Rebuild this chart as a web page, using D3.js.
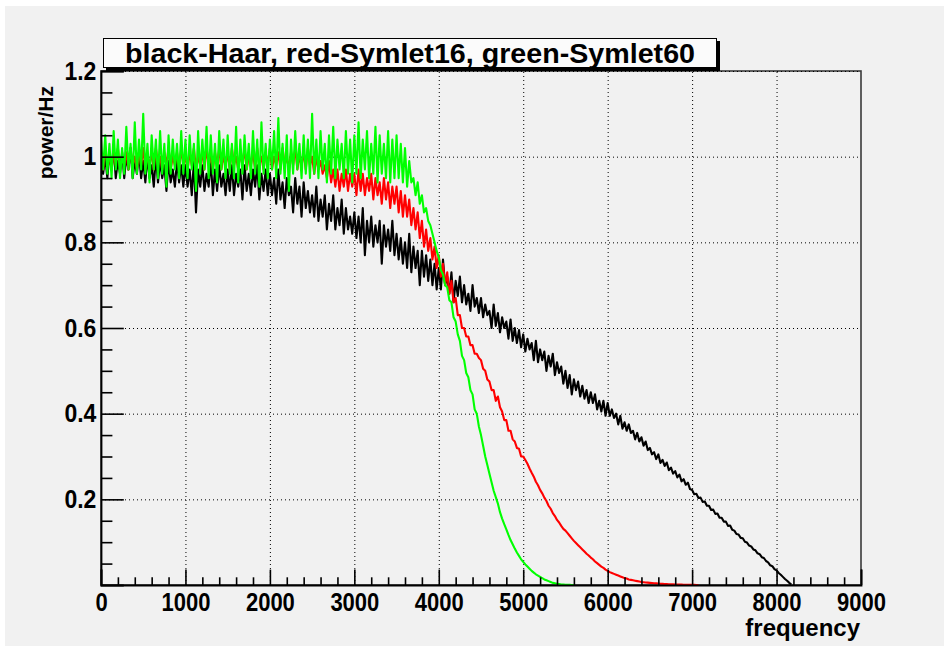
<!DOCTYPE html>
<html><head><meta charset="utf-8">
<script src="https://cdn.jsdelivr.net/npm/d3@7"></script>
<style>body{margin:0;background:#fff;} svg{display:block;}</style>
</head><body><svg id="c" width="944" height="646"></svg>
<script>
// ---- data ----
const freqStep = 25; // Hz between successive samples, first sample at 0 Hz
const haar = [
1.01,0.96,1.00,0.95,1.01,0.97,1.02,0.95,0.99,0.96,1.01,0.95,1.00,0.97,1.02,0.95,0.99,0.96,1.01,0.95,
0.99,0.94,1.00,0.95,0.98,0.93,1.00,0.94,0.99,0.95,0.98,0.92,0.99,0.94,0.97,0.93,0.99,0.94,0.98,0.93,
0.98,0.93,0.97,0.91,0.99,0.87,0.97,0.93,0.98,0.92,0.96,0.93,0.99,0.91,0.97,0.92,0.98,0.93,0.96,0.91,
0.97,0.92,0.98,0.91,0.96,0.93,0.97,0.90,0.98,0.92,0.96,0.91,0.97,0.93,0.98,0.90,0.96,0.92,0.97,0.91,
0.96,0.91,0.95,0.89,0.97,0.90,0.94,0.88,0.95,0.91,0.93,0.87,0.95,0.89,0.93,0.86,0.94,0.88,0.92,0.87,
0.91,0.86,0.93,0.85,0.90,0.86,0.91,0.83,0.89,0.85,0.91,0.83,0.88,0.84,0.90,0.82,0.88,0.83,0.86,0.82,
0.87,0.81,0.86,0.80,0.88,0.77,0.85,0.80,0.86,0.79,0.84,0.80,0.85,0.75,0.84,0.79,0.83,0.78,0.85,0.77,
0.82,0.76,0.81,0.75,0.80,0.74,0.82,0.73,0.79,0.74,0.78,0.70,0.78,0.72,0.77,0.71,0.76,0.70,0.75,0.69,
0.74,0.69,0.76,0.70,0.72,0.68,0.73,0.66,0.71,0.675,0.72,0.66,0.70,0.655,0.68,0.64,0.70,0.65,0.67,0.635,
0.67,0.625,0.655,0.63,0.64,0.60,0.655,0.605,0.635,0.59,0.625,0.60,0.615,0.575,0.62,0.57,0.60,0.565,0.595,0.555,
0.585,0.545,0.575,0.55,0.565,0.525,0.57,0.52,0.55,0.525,0.545,0.50,0.535,0.51,0.54,0.49,0.52,0.495,0.51,0.47,
0.50,0.46,0.49,0.445,0.48,0.455,0.475,0.44,0.465,0.435,0.455,0.425,0.45,0.425,0.445,0.41,0.43,0.405,0.43,0.395,
0.425,0.395,0.41,0.39,0.40,0.375,0.395,0.365,0.38,0.36,0.375,0.355,0.36,0.34,0.355,0.335,0.345,0.325,0.335,0.315,
0.32,0.305,0.31,0.294,0.305,0.285,0.292,0.278,0.286,0.268,0.274,0.26,0.266,0.251,0.258,0.242,0.247,0.234,0.239,0.224,
0.222,0.212,0.213,0.203,0.204,0.194,0.195,0.185,0.185,0.175,0.176,0.166,0.167,0.157,0.157,0.148,0.148,0.138,0.139,0.129,
0.127,0.119,0.118,0.11,0.109,0.101,0.099,0.092,0.09,0.083,0.081,0.074,0.072,0.065,0.063,0.056,0.053,0.046,0.044,0.037,
0.034,0.028,0.024,0.019,0.014,0.01,0.005,0.001
];
const symlet16 = [
1.01,0.97,1.02,0.98,1.00,0.97,1.01,0.98,1.02,0.97,1.00,0.98,1.01,0.97,1.02,0.98,1.00,0.97,1.01,0.98,
1.02,0.97,1.00,0.98,1.01,0.97,1.02,0.98,1.00,0.97,1.01,0.98,1.02,0.97,1.00,0.98,1.01,0.97,1.02,0.98,
1.00,0.97,1.01,0.98,1.02,0.97,1.00,0.98,1.01,0.97,1.02,0.98,1.00,0.97,1.01,0.98,1.02,0.97,1.00,0.98,
1.01,0.97,1.02,0.98,1.00,0.97,1.01,0.98,1.02,0.97,1.00,0.98,1.01,0.97,1.02,0.98,1.00,0.97,1.01,0.98,
1.02,0.97,1.00,0.98,1.01,0.97,1.02,0.98,1.00,0.97,1.01,0.98,1.02,0.97,1.00,0.98,1.01,0.97,1.02,0.98,
1.00,0.96,1.00,0.97,0.99,0.96,0.98,0.95,0.99,0.94,0.97,0.93,0.97,0.92,0.96,0.93,0.97,0.92,0.96,0.93,
0.96,0.91,0.97,0.92,0.96,0.91,0.95,0.92,0.96,0.90,0.95,0.91,0.94,0.89,0.95,0.90,0.94,0.88,0.93,0.89,
0.93,0.87,0.92,0.86,0.91,0.86,0.90,0.84,0.88,0.83,0.87,0.81,0.85,0.79,0.83,0.78,0.81,0.76,0.79,0.74,
0.77,0.72,0.75,0.70,0.73,0.68,0.71,0.66,0.67,0.63,0.63,0.60,0.60,0.58,0.58,0.56,0.56,0.54,0.54,0.53,
0.525,0.505,0.50,0.48,0.475,0.455,0.455,0.43,0.44,0.415,0.405,0.385,0.385,0.36,0.36,0.34,0.335,0.32,0.318,0.30,
0.30,0.292,0.283,0.272,0.262,0.253,0.241,0.233,0.222,0.214,0.204,0.196,0.185,0.178,0.168,0.161,0.152,0.146,0.138,0.131,
0.127,0.121,0.115,0.109,0.103,0.098,0.093,0.088,0.083,0.078,0.073,0.069,0.064,0.060,0.055,0.051,0.047,0.043,0.040,0.036,
0.033,0.030,0.028,0.026,0.024,0.022,0.020,0.018,0.016,0.015,0.013,0.012,0.011,0.010,0.009,0.008,0.007,0.0065,0.006,0.0055,
0.005,0.0045,0.004,0.0037,0.0034,0.003,0.0027,0.0024,0.0021,0.0019,0.0017,0.0015,0.0013,0.0011,0.001,0.0008,0.0007,0.0006,0.0005,0.0004,
0.0003,0.0002,0.0001,0.0
];
const symlet60 = [
1.04,0.97,1.05,0.96,1.03,0.95,1.06,0.97,1.04,0.95,1.02,0.96,1.07,0.97,1.03,0.95,1.08,0.96,1.04,0.97,
1.10,0.96,1.03,0.94,1.05,0.97,1.04,0.95,1.06,0.96,1.03,0.93,1.05,0.96,1.04,0.97,1.03,0.95,1.06,0.96,
1.04,0.95,1.05,0.97,1.03,0.92,1.06,0.96,1.04,0.97,1.07,0.95,1.05,0.96,1.03,0.94,1.06,0.97,1.04,0.95,
1.05,0.96,1.03,0.95,1.07,0.94,1.04,0.96,1.05,0.97,1.03,0.95,1.06,0.96,1.04,0.93,1.08,0.96,1.03,0.95,
1.04,0.97,1.06,0.95,1.09,0.96,1.03,0.95,1.05,0.92,1.04,0.96,1.06,0.97,1.03,0.95,1.05,0.96,1.04,0.95,
1.10,0.96,1.04,0.95,1.06,0.97,1.03,0.94,1.05,0.96,1.07,0.95,1.04,0.97,1.03,0.95,1.06,0.96,1.04,0.94,
1.05,0.96,1.08,0.95,1.04,0.97,1.06,0.95,1.03,0.96,1.07,0.94,1.05,0.96,1.03,0.95,1.06,0.94,1.04,0.95,
1.05,0.95,1.03,0.94,1.02,0.93,0.99,0.94,0.95,0.91,0.94,0.89,0.91,0.87,0.88,0.85,0.84,0.82,0.80,0.78,
0.765,0.735,0.725,0.70,0.695,0.665,0.66,0.625,0.615,0.585,0.57,0.535,0.525,0.495,0.485,0.455,0.445,0.41,0.40,0.37,
0.35,0.325,0.30,0.28,0.26,0.24,0.22,0.205,0.19,0.17,0.155,0.142,0.13,0.117,0.105,0.095,0.085,0.076,0.068,0.06,
0.054,0.048,0.043,0.038,0.033,0.029,0.025,0.022,0.019,0.016,0.013,0.011,0.009,0.007,0.005,0.004,0.003,0.002,0.001,0.001,
0.0005,0.0003,0.0002,0.0001,0.0
];
const series = [
  {name: "Haar", values: haar, color: "#000000"},
  {name: "Symlet16", values: symlet16, color: "#ff0000"},
  {name: "Symlet60", values: symlet60, color: "#00ff00"}
];
const xMajorTicks = [0,1000,2000,3000,4000,5000,6000,7000,8000,9000];
const yMajorTicks = [0.2,0.4,0.6,0.8,1.0,1.2];
const yTickLabels = ["0.2","0.4","0.6","0.8","1","1.2"];
const titleText = "black-Haar, red-Symlet16, green-Symlet60";
const xTitle = "frequency";
const yTitle = "power/Hz";

// ---- layout ----
const svg = d3.select("#c");
const L = 101, R = 861, T = 71, B = 585;
const bg = "#f1f1f1";
const font = "'Liberation Sans', Arial, Helvetica, sans-serif";

svg.append("rect").attr("x",5).attr("y",6).attr("width",939).attr("height",640).attr("fill",bg);

const x = d3.scaleLinear().domain([0,9000]).range([L,R]);
const y = d3.scaleLinear().domain([0,1.2]).range([B,T]);

// frame
svg.append("rect").attr("x",L).attr("y",T).attr("width",R-L).attr("height",B-T)
  .attr("fill",bg).attr("stroke","#3a3a3a").attr("stroke-width",1.6);

// grid
const gridStyle = g => g.selectAll("line").attr("stroke","#000").attr("stroke-width",1).attr("stroke-dasharray","1,3");
svg.append("g").attr("transform",`translate(0,${B})`)
  .call(d3.axisBottom(x).tickValues(xMajorTicks.slice(1,-1)).tickSize(-(B-T)).tickFormat(""))
  .call(g=>g.select(".domain").remove()).call(gridStyle);
svg.append("g").attr("transform",`translate(${L},0)`)
  .call(d3.axisLeft(y).tickValues(yMajorTicks).tickSize(-(R-L)).tickFormat(""))
  .call(g=>g.select(".domain").remove()).call(gridStyle);

// curves
svg.append("clipPath").attr("id","clip").append("rect").attr("x",L).attr("y",T).attr("width",R-L).attr("height",B-T);
const line = d3.line().x((d,i)=>x(i*freqStep)).y(d=>y(d));
const plot = svg.append("g").attr("clip-path","url(#clip)");
series.forEach(s=>{
  plot.append("path").datum(s.values).attr("d",line)
    .attr("fill","none").attr("stroke",s.color).attr("stroke-width",2.1).attr("stroke-linejoin","round");
});

// minor ticks
const xMinor = d3.range(0,9001,200).filter(v=>v%1000!==0);
const yMinor = d3.range(0,1.2001,0.05).map(v=>+v.toFixed(2)).filter(v=>Math.abs(v/0.2-Math.round(v/0.2))>1e-6);
const tickStyle = g => { g.select(".domain").remove(); g.selectAll("line").attr("stroke","#000").attr("stroke-width",1.6); };
svg.append("g").attr("transform",`translate(0,${B})`)
  .call(d3.axisBottom(x).tickValues(xMinor).tickSize(-7.7).tickFormat("")).call(tickStyle);
svg.append("g").attr("transform",`translate(${L},0)`)
  .call(d3.axisLeft(y).tickValues(yMinor).tickSize(-11.4).tickFormat("")).call(tickStyle);

// major ticks + labels
const xAxis = svg.append("g").attr("transform",`translate(0,${B})`)
  .call(d3.axisBottom(x).tickValues(xMajorTicks).tickSize(-15.4).tickPadding(8).tickFormat(d3.format("d")));
xAxis.select(".domain").attr("stroke","#000").attr("stroke-width",1.8);
xAxis.selectAll("line").attr("stroke","#000").attr("stroke-width",1.6);
xAxis.selectAll("text").attr("font-family",font).attr("font-weight","bold").attr("font-size",25)
  .attr("fill","#000").attr("transform","scale(0.88,1)");

const yAxis = svg.append("g").attr("transform",`translate(${L},0)`)
  .call(d3.axisLeft(y).tickValues(yMajorTicks).tickSize(-22.8).tickPadding(5).tickFormat((d,i)=>yTickLabels[i]));
yAxis.select(".domain").attr("stroke","#000").attr("stroke-width",1.8);
yAxis.selectAll("line").attr("stroke","#000").attr("stroke-width",1.6);
yAxis.selectAll("text").attr("font-family",font).attr("font-weight","bold").attr("font-size",25)
  .attr("fill","#000").attr("transform","scale(0.92,1)");

// axis titles
svg.append("text").attr("x",860).attr("y",636).attr("text-anchor","end")
  .attr("font-family",font).attr("font-weight","bold").attr("font-size",24).text(xTitle);
svg.append("text").attr("transform","translate(53,86) rotate(-90)").attr("text-anchor","end")
  .attr("font-family",font).attr("font-weight","bold").attr("font-size",21).text(yTitle);

// title box with shadow
svg.append("rect").attr("x",106).attr("y",41).attr("width",614).attr("height",30).attr("fill","#000");
svg.append("rect").attr("x",103.5).attr("y",38.5).attr("width",613).attr("height",29)
  .attr("fill","#fbfbfb").attr("stroke","#000").attr("stroke-width",1);
svg.append("text").attr("x",410).attr("y",63).attr("text-anchor","middle")
  .attr("font-family",font).attr("font-weight","bold").attr("font-size",28)
  .attr("textLength",570).attr("lengthAdjust","spacingAndGlyphs").text(titleText);
</script></body></html>
